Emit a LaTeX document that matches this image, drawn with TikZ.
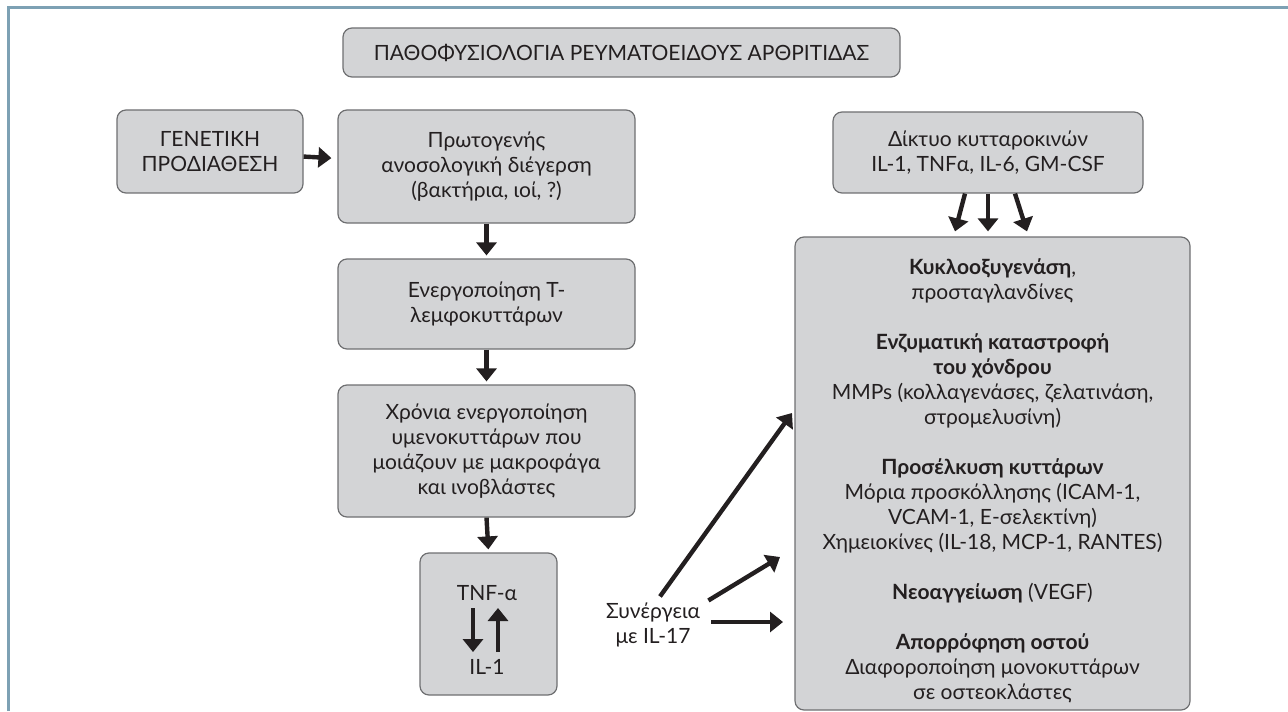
\documentclass[tikz,border=0pt]{standalone}
\usepackage{fontspec}
\setmainfont{Lato}
\usetikzlibrary{arrows.meta}
\definecolor{boxgray}{HTML}{D3D4D6}
\definecolor{edgegray}{HTML}{6E6F71}
\definecolor{framebl}{HTML}{7DA1B4}
\definecolor{inkblk}{HTML}{231F20}
\begin{document}
\begin{tikzpicture}[x=0.5pt, y=-0.5pt,
		txt/.style={text=inkblk, align=center, inner sep=0, font=\fontsize{10.5pt}{12.5pt}\selectfont},
		box/.style={txt, draw=edgegray, line width=0.6pt, fill=boxgray, rounded corners=4.5pt},
		arr/.style={draw=inkblk, line width=2.2pt, -{Triangle[width=10pt,length=6.5pt]}}]
		\useasboundingbox (0,0) rectangle (1288,711);
		\draw [framebl, line width=1.5pt] (8,711) -- (8,8) -- (1288,8);

		\node [box, minimum width=278.5pt, minimum height=24.5pt] at (621.5,52.5) (title) {ΠΑΘΟΦΥΣΙΟΛΟΓΙΑ ΡΕΥΜΑΤΟΕΙΔΟΥΣ ΑΡΘΡΙΤΙΔΑΣ};
		\node [box, minimum width=93pt, minimum height=41.5pt] at (210,151.5) (gen) {ΓΕΝΕΤΙΚΗ\\ΠΡΟΔΙΑΘΕΣΗ};
		\node [box, minimum width=148.5pt, minimum height=56.5pt] at (486.5,166.5) (prim) {Πρωτογενής\\ανοσολογική διέγερση\\(βακτήρια, ιοί, ?)};
		\node [box, minimum width=148.5pt, minimum height=45pt] at (486.5,304) (tact) {Ενεργοποίηση Τ-\\λεμφοκυττάρων};
		\node [box, minimum width=148.5pt, minimum height=66pt] at (486.5,451) (chron) {Χρόνια ενεργοποίηση\\υμενοκυττάρων που\\μοιάζουν με μακροφάγα\\και ινοβλάστες};
		\node [box, minimum width=68.5pt, minimum height=71pt] at (488.5,624) (cyc) {};
		\node [txt, inner sep=3.5pt] at (487,593) (tnf) {TNF-α};
		\node [txt, inner sep=3.5pt] at (487,667) (il) {IL-1};
		\node [txt] at (653,625) (syn) {Συνέργεια\\με IL-17};
		\node [box, minimum width=155pt, minimum height=40.5pt] at (988,152.5) (cyto) {Δίκτυο κυτταροκινών\\IL-1, TNFα, IL-6, GM-CSF};
		\node [box, minimum width=197.5pt, minimum height=236.5pt] at (992.5,473.5) (big) {};
		\node [txt] at (992.5,480.5) (eff) {\textbf{Κυκλοοξυγενάση},\\προσταγλανδίνες\\[12.5pt]
			\textbf{Ενζυματική καταστροφή}\\\textbf{του χόνδρου}\\MMPs (κολλαγενάσες, ζελατινάση,\\στρομελυσίνη)\\[12.5pt]
			\textbf{Προσέλκυση κυττάρων}\\Μόρια προσκόλλησης (ICAM-1,\\VCAM-1, Ε-σελεκτίνη)\\Χημειοκίνες (IL-18, MCP-1, RANTES)\\[12.5pt]
			\textbf{Νεοαγγείωση} (VEGF)\\[12.5pt]
			\textbf{Απορρόφηση οστού}\\Διαφοροποίηση μονοκυττάρων\\σε οστεοκλάστες};

		\coordinate (p1) at (792,413);
		\coordinate (p2) at (780,557);
		\coordinate (p3) at (783,622);

		\draw [arr, shorten >=3pt] (gen) -- (prim);
		\foreach \i/\j in {prim/tact, tact/chron, chron/cyc}
			\draw [arr, shorten >=1.5pt] (\i.south) -- (\j.north);
		\draw [arr] ([xshift=-7pt]tnf.south) -- ([xshift=-7pt]il.north);
		\draw [arr] ([xshift=5.5pt]il.north) -- ([xshift=5.5pt]tnf.south);
		\foreach \a/\b in {-11.5pt/-18.75pt, 0pt/-2.25pt, 13.5pt/17.25pt}
			\draw [arr] ([xshift=\a]cyto.south) -- ([xshift=\b, yshift=2.5pt]big.north);
		\draw [arr] ([xshift=3.5pt, yshift=3pt]syn.north) -- (p1);
		\draw [arr] ([xshift=4pt, yshift=1pt]syn.north east) -- (p2);
		\draw [arr] ([xshift=5.5pt, yshift=1.5pt]syn.east) -- (p3);
\end{tikzpicture}
\end{document}
